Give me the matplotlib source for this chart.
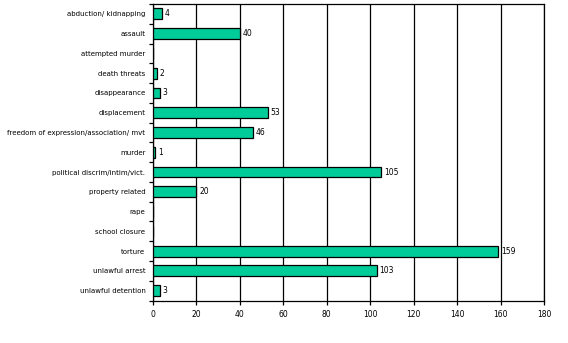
import matplotlib.pyplot as plt
import numpy as np

# violation categories and counts
categories = ['abduction/ kidnapping', 'assault', 'attempted murder', 'death threats',
              'disappearance', 'displacement', 'freedom of expression/association/ mvt',
              'murder', 'political discrim/intim/vict.', 'property related', 'rape',
              'school closure', 'torture', 'unlawful arrest', 'unlawful detention']
counts = [4, 40, 0, 2, 3, 53, 46, 1, 105, 20, 0, 0, 159, 103, 3]
xticks = [0, 20, 40, 60, 80, 100, 120, 140, 160, 180]

fig = plt.figure(figsize=(5.68, 3.43), dpi=100)
ax = fig.add_axes([0.2694, 0.1239, 0.6884, 0.8644])

y = np.arange(len(categories))
ax.barh(y, counts, height=0.55, color='#00CC99', edgecolor='black', linewidth=0.9, zorder=3)

for yi, c in zip(y, counts):
    if c > 0:
        ax.text(c + 1.2, yi, str(c), va='center', ha='left', fontsize=5.5)

ax.set_xlim(0, 180)
ax.set_ylim(len(categories) - 0.5, -0.5)
ax.set_xticks(xticks)
ax.set_xticklabels([str(t) for t in xticks], fontsize=5.5)
ax.xaxis.grid(True, color='black', linewidth=0.9, zorder=0)

# category labels centred on bars, ticks on the boundaries between them
ax.set_yticks(y)
ax.set_yticklabels(categories, fontsize=5.0)
ax.tick_params(axis='y', which='major', length=0, pad=5.5)
ax.set_yticks(np.arange(len(categories) + 1) - 0.5, minor=True)
ax.tick_params(axis='y', which='minor', length=3, width=0.9)
ax.tick_params(axis='x', length=3, width=0.9, pad=4)

for s in ax.spines.values():
    s.set_linewidth(0.9)

fig.savefig('out.png', dpi=100)
